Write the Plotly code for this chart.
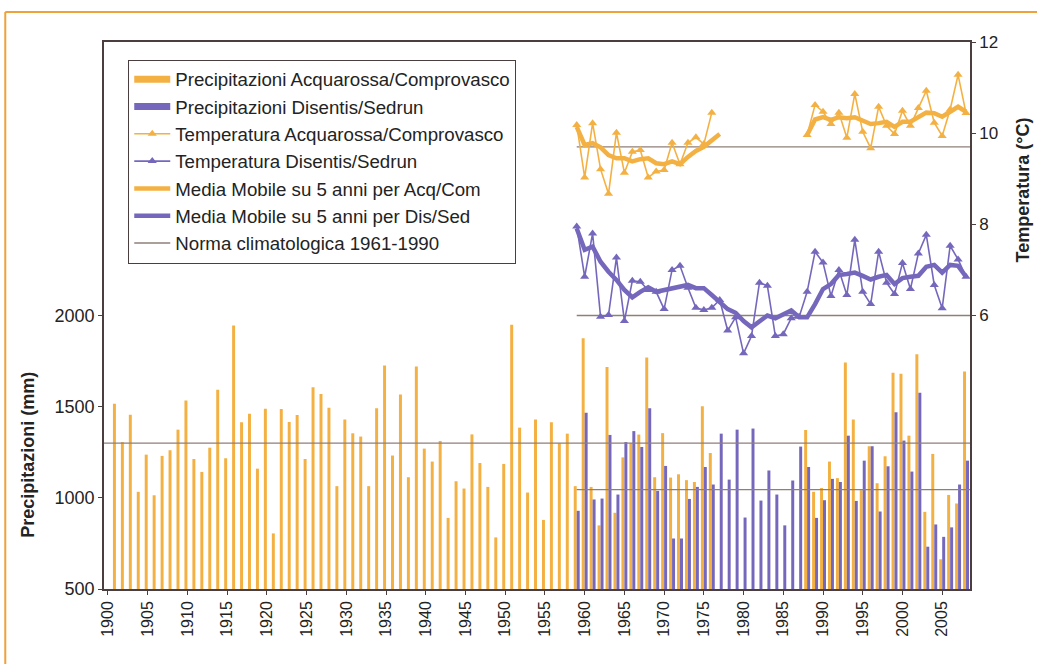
import plotly.graph_objects as go

# ---- precipitation (mm) ----
prec_years = list(range(1901, 2009))
prec_acq = [
    1516, 1306, 1456, 1033, 1237, 1014, 1230, 1261, 1374, 1534,   # 1901-1910
    1213, 1142, 1275, 1593, 1217, 1945, 1414, 1461, 1160, 1489,   # 1911-1920
    805, 1487, 1416, 1454, 1213, 1606, 1569, 1494, 1064, 1429,    # 1921-1930
    1354, 1336, 1064, 1492, 1726, 1232, 1567, 1113, 1720, 1270,   # 1931-1940
    1199, 1312, 890, 1091, 1051, 1348, 1191, 1060, 783, 1186,     # 1941-1950
    1949, 1385, 1029, 1429, 879, 1414, 1300, 1352, 1064, 1875,    # 1951-1960
    1060, 849, 1717, 918, 1222, 1301, 1347, 1770, 1113, 1355,     # 1961-1970
    1111, 1129, 1097, 1087, 1502, 1246, None, None, None, None,   # 1971-1980
    None, None, None, None, None, None, None, 1372, 1033, 1054,   # 1981-1990
    1199, 1108, 1742, 1429, 1042, 1283, 1080, 1228, 1686, 1680,   # 1991-2000
    1341, 1788, 923, 1241, 663, 1016, 969, 1693,                  # 2001-2008
]
dis_years = list(range(1959, 2009))
prec_dis = [
    929, 1467,                                                    # 1959-1960
    991, 996, 1345, 1018, 1306, 1366, 1279, 1492, 1038, 1175,     # 1961-1970
    777, 777, 994, 1060, 1169, 1073, 1352, 1100, 1374, 892,       # 1971-1980
    1380, 985, 1150, 1018, 849, 1095, 1281, 1169, 890, 987,       # 1981-1990
    1104, 1087, 1341, 983, 1204, 1283, 925, 1173, 1470, 1314,     # 1991-2000
    1144, 1577, 732, 854, 786, 838, 1073, 1204,                   # 2001-2008
]

# ---- temperature (°C) ----
temp_years = list(range(1959, 2009))
temp_acq = [
    10.18, 9.03,
    10.22, 9.21, 8.67, 10.01, 9.13, 9.59, 9.63, 9.03, 9.16, 9.19,
    9.79, 9.32, 9.79, 9.91, 9.76, 10.45, None, None, None, None,
    None, None, None, None, None, None, None, 9.96, 10.62, 10.47,
    10.20, 10.45, 9.90, 10.86, 10.03, 9.67, 10.58, 10.16, 9.98, 10.49,
    10.16, 10.55, 10.93, 10.23, 9.94, 10.52, 11.28, 10.44,
]
temp_dis = [
    7.95, 6.85,
    7.80, 5.97, 6.01, 7.27, 5.88, 6.76, 6.74, 6.56, 6.52, 6.14,
    7.00, 7.09, 6.61, 6.17, 6.12, 6.17, 6.34, 5.67, 5.96, 5.17,
    5.55, 6.72, 6.65, 5.55, 5.59, 5.94, 5.97, 6.52, 7.40, 7.16,
    6.43, 7.00, 6.45, 7.66, 6.52, 6.25, 7.40, 6.72, 6.47, 7.15,
    6.58, 7.36, 7.77, 6.67, 6.16, 7.53, 7.23, 6.85,
]
# 5-year moving averages
mm_acq = [
    10.14, 9.74,
    9.78, 9.69, 9.52, 9.45, 9.45, 9.38, 9.43, 9.45, 9.34, 9.32,
    9.38, 9.32, 9.48, 9.61, 9.70, 9.83, 9.98, None, None, None,
    None, None, None, None, None, None, None, 9.96, 10.30, 10.35,
    10.29, 10.35, 10.33, 10.35, 10.27, 10.20, 10.22, 10.25, 10.14, 10.25,
    10.25, 10.35, 10.45, 10.44, 10.36, 10.47, 10.58, 10.47,
]
mm_dis = [
    7.91, 7.44,
    7.51, 7.18, 6.96, 6.78, 6.56, 6.40, 6.52, 6.62, 6.52, 6.56,
    6.58, 6.63, 6.67, 6.60, 6.60, 6.45, 6.30, 6.14, 6.06, 5.88,
    5.74, 5.86, 6.00, 5.94, 6.03, 6.11, 5.96, 5.96, 6.25, 6.58,
    6.69, 6.89, 6.91, 6.94, 6.87, 6.79, 6.85, 6.89, 6.69, 6.82,
    6.85, 6.87, 7.07, 7.11, 6.94, 7.11, 7.09, 6.85,
]

# ---- climatological norms 1961-1990 ----
norm_prec_acq = 1300
norm_prec_dis = 1045
norm_temp_acq = 9.7
norm_temp_dis = 6.0
norm_recent_start = 1959

# ---- axes ----
x_range = [1899.5, 2008.5]
x_tickvals = list(range(1900, 2006, 5))
prec_range = [500, 3500]
prec_ticks = [500, 1000, 1500, 2000]
temp_range = [0, 12]
temp_ticks = [6, 8, 10, 12]

ORANGE = "#F4B143"
PURPLE = "#7568BC"
NORM = "#8E7F7A"
AXIS = "#4A3E3E"
TEXT = "#232323"
FONT = "Liberation Sans, Arial, sans-serif"

fig = go.Figure()

# precipitation bars
fig.add_trace(go.Bar(x=prec_years, y=prec_acq, marker=dict(color=ORANGE, line=dict(width=0)),
                     showlegend=False, name="Precipitazioni Acquarossa/Comprovasco"))
fig.add_trace(go.Bar(x=dis_years, y=prec_dis, marker=dict(color=PURPLE, line=dict(width=0)),
                     showlegend=False, name="Precipitazioni Disentis/Sedrun"))

# temperature norms (right axis)
fig.add_trace(go.Scatter(
    x=[norm_recent_start, x_range[1], None, norm_recent_start, x_range[1]],
    y=[norm_temp_acq, norm_temp_acq, None, norm_temp_dis, norm_temp_dis],
    mode="lines", line=dict(color=NORM, width=1.3), yaxis="y2",
    showlegend=False, hoverinfo="skip"))

# legend swatches for the bar series
fig.add_trace(go.Scatter(x=[None], y=[None], mode="lines", line=dict(color=ORANGE, width=7),
                         name="Precipitazioni Acquarossa/Comprovasco"))
fig.add_trace(go.Scatter(x=[None], y=[None], mode="lines", line=dict(color=PURPLE, width=7),
                         name="Precipitazioni Disentis/Sedrun"))

# temperatures
fig.add_trace(go.Scatter(x=temp_years, y=temp_acq, yaxis="y2", mode="lines+markers",
                         line=dict(color=ORANGE, width=1.6),
                         marker=dict(symbol="triangle-up", size=8, color=ORANGE),
                         name="Temperatura Acquarossa/Comprovasco"))
fig.add_trace(go.Scatter(x=temp_years, y=temp_dis, yaxis="y2", mode="lines+markers",
                         line=dict(color=PURPLE, width=1.6),
                         marker=dict(symbol="triangle-up", size=8, color=PURPLE),
                         name="Temperatura Disentis/Sedrun"))
fig.add_trace(go.Scatter(x=temp_years, y=mm_acq, yaxis="y2", mode="lines",
                         line=dict(color=ORANGE, width=4.5),
                         name="Media Mobile su 5 anni per Acq/Com"))
fig.add_trace(go.Scatter(x=temp_years, y=mm_dis, yaxis="y2", mode="lines",
                         line=dict(color=PURPLE, width=4.5),
                         name="Media Mobile su 5 anni per Dis/Sed"))

# precipitation norms (left axis)
fig.add_trace(go.Scatter(
    x=[x_range[0], x_range[1], None, norm_recent_start, x_range[1]],
    y=[norm_prec_acq, norm_prec_acq, None, norm_prec_dis, norm_prec_dis],
    mode="lines", line=dict(color=NORM, width=1.3),
    name="Norma climatologica 1961-1990", hoverinfo="skip"))

fig.update_layout(
    width=1037, height=664, autosize=False,
    margin=dict(l=104, r=67, t=42, b=75),
    paper_bgcolor="white", plot_bgcolor="white",
    font=dict(family=FONT, size=17, color=TEXT),
    barmode="group", bargap=0.25, bargroupgap=0.0,
    xaxis=dict(range=x_range, tickvals=x_tickvals, tickangle=-90,
               showgrid=False, zeroline=False,
               showline=True, linecolor=AXIS, linewidth=1.6, mirror=True,
               ticks="outside", ticklen=4, tickcolor=AXIS,
               tickfont=dict(size=16)),
    yaxis=dict(range=prec_range, tickvals=prec_ticks, showgrid=False, zeroline=False,
               showline=True, linecolor=AXIS, linewidth=1.6, mirror=True,
               ticks="outside", ticklen=4, tickcolor=AXIS,
               tickfont=dict(size=18)),
    yaxis2=dict(range=temp_range, tickvals=temp_ticks, overlaying="y", side="right",
                showgrid=False, zeroline=False,
                showline=True, linecolor=AXIS, linewidth=1.6,
                ticks="outside", ticklen=4, tickcolor=AXIS,
                tickfont=dict(size=17)),
    legend=dict(x=0.028, y=0.968, xanchor="left", yanchor="top",
                bgcolor="white", bordercolor=AXIS, borderwidth=1,
                font=dict(size=18.7, color=TEXT), traceorder="normal",
                itemwidth=36),
    annotations=[
        dict(text="<b>Precipitazioni (mm)</b>", xref="paper", yref="paper",
             x=-0.088, y=0.245, textangle=-90, showarrow=False,
             font=dict(size=18, color=TEXT), xanchor="center", yanchor="middle"),
        dict(text="<b>Temperatura (°C)</b>", xref="paper", yref="paper",
             x=1.061, y=0.73, textangle=-90, showarrow=False,
             font=dict(size=18, color=TEXT), xanchor="center", yanchor="middle"),
    ],
    shapes=[
        # page frame
        dict(type="line", xref="paper", yref="paper", x0=-0.114, x1=1.08,
             y0=1.0548, y1=1.0548, line=dict(color="#EFA23A", width=2)),
        dict(type="line", xref="paper", yref="paper", x0=-0.114, x1=-0.114,
             y0=1.0548, y1=-0.14, line=dict(color="#EFA23A", width=2)),
    ],
)

fig.write_html("out.html")
